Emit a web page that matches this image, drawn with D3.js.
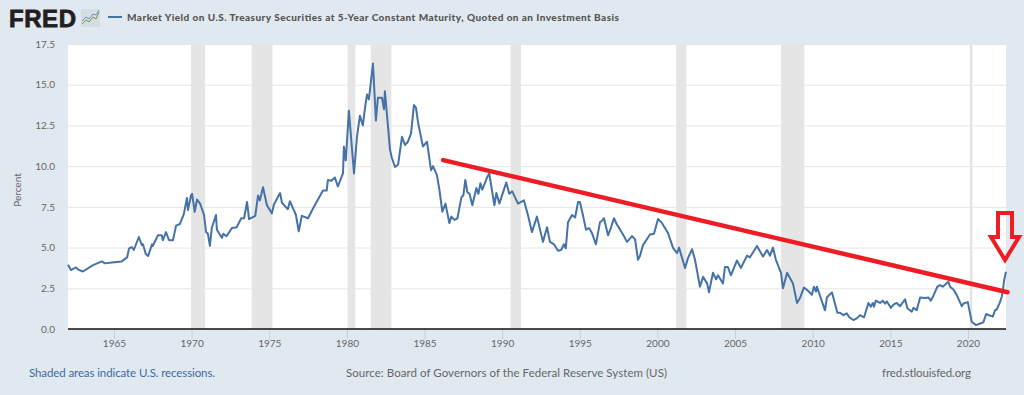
<!DOCTYPE html>
<html>
<head>
<meta charset="utf-8">
<script src="https://cdn.jsdelivr.net/npm/d3@7"></script>
<style>
  html, body { margin: 0; padding: 0; background: #e1e9f0; }
  svg { display: block; font-family: Lato, sans-serif; }
</style>
</head>
<body>
<svg id="chart" width="1024" height="395"></svg>
<script>
const dates = [
  1962.04,1962.23,1962.55,1962.7,1963.0,1963.65,1964.23,1964.42,1964.87,1965.5,1965.85,1965.97,1966.15,1966.28,1966.6,1966.8,1966.87,1967.05,1967.2,1967.45,1967.5,1967.83,1968.08,1968.15,1968.35,1968.55,1968.8,1969.0,1969.25,1969.5,1969.7,1969.77,1969.96,1970.03,1970.2,1970.35,1970.55,1970.8,1970.93,1971.05,1971.18,1971.3,1971.57,1971.63,1971.95,1972.05,1972.25,1972.6,1972.9,1973.2,1973.38,1973.57,1973.7,1974.1,1974.28,1974.4,1974.6,1974.85,1975.17,1975.3,1975.7,1975.82,1976.2,1976.33,1976.72,1976.9,1977.1,1977.5,1977.82,1978.46,1978.7,1978.78,1979.0,1979.23,1979.42,1979.75,1979.81,1979.93,
  1980.13,1980.46,1980.65,1980.84,1981.03,1981.17,1981.3,1981.42,1981.68,1981.87,1982.0,1982.26,1982.39,1982.45,1982.78,1982.9,1983.1,1983.3,1983.55,1983.74,1983.93,1984.13,1984.32,1984.45,1984.58,1984.9,1985.16,1985.42,1985.55,1985.8,1985.96,1986.15,1986.35,1986.6,1986.73,1986.93,1987.12,1987.38,1987.5,1987.63,1987.76,1987.9,1988.08,1988.34,1988.47,1988.6,1988.72,1989.05,1989.17,1989.5,1989.63,1989.82,1990.27,1990.46,1990.65,1991.02,1991.4,1991.66,1991.92,1992.24,1992.63,1992.89,1993.08,1993.34,1993.6,1993.8,1993.98,1994.1,1994.24,1994.5,1994.7,1994.89,1995.01,1995.2,1995.4,1995.6,1995.78,1996.04,1996.3,1996.43,1996.56,1996.82,1997.0,1997.2,1997.4,1997.6,1997.85,1998.04,1998.37,1998.56,1998.75,1998.88,1999.07,1999.52,1999.78,
  2000.04,2000.3,2000.68,2001.0,2001.26,2001.39,2001.78,2001.97,2002.23,2002.42,2002.74,2002.94,2003.2,2003.32,2003.58,2003.78,2003.9,2004.03,2004.22,2004.35,2004.54,2004.73,2005.12,2005.38,2005.77,2005.96,2006.41,2006.8,2007.06,2007.25,2007.44,2007.63,2007.96,2008.09,2008.35,2008.73,2008.99,2009.18,2009.44,2009.7,2009.95,2010.08,2010.21,2010.27,2010.79,2010.92,2011.24,
  2011.59,2011.76,2011.98,2012.19,2012.36,2012.62,2012.84,2013.05,2013.31,
  2013.59,2013.74,2013.87,2013.95,2014.06,2014.34,2014.51,2014.66,2014.77,2015.03,2015.2,2015.41,2015.63,2015.95,2016.1,2016.38,2016.49,2016.7,2016.92,2017.24,2017.45,2017.6,2017.77,2018.03,2018.2,2018.38,2018.74,2018.85,2019.06,2019.28,2019.6,2019.71,2019.99,
  2020.24,2020.52,2020.78,2020.99,2021.17,2021.32,2021.6,2021.75,2021.85,2022.03,2022.18,2022.28,2022.33,2022.45
];
const yields = [
  3.95,3.62,3.78,3.65,3.53,3.92,4.15,4.03,4.08,4.15,4.4,4.95,5.03,4.85,5.65,5.15,5.2,4.6,4.48,5.2,5.1,5.75,5.75,5.45,5.95,5.45,5.45,6.35,6.45,7.05,8.05,7.3,8.2,8.3,7.2,7.95,7.7,7.0,5.95,5.85,5.1,6.2,7.0,6.1,5.6,5.85,5.7,6.2,6.25,6.8,6.8,7.8,6.75,6.95,8.2,7.9,8.7,7.6,7.1,7.65,8.35,7.75,7.35,7.85,7.0,6.0,6.95,6.8,7.4,8.5,8.5,9.15,9.1,9.3,8.75,9.55,11.2,10.35,
  13.4,9.55,11.8,13.1,12.5,13.6,14.4,14.1,16.3,12.8,14.2,14.2,13.5,14.6,11.0,10.5,9.95,10.1,11.8,11.3,11.5,12.0,13.75,13.6,12.7,11.2,11.5,9.75,10.0,9.45,8.55,7.2,7.7,6.5,6.9,6.7,6.8,8.1,8.2,9.15,8.4,8.3,7.6,8.65,8.3,8.95,8.55,9.35,9.55,7.6,8.35,7.7,9.0,8.3,8.45,7.7,7.9,7.0,5.95,6.9,5.35,6.25,5.35,5.2,4.8,4.85,5.2,4.95,6.55,7.0,6.85,7.8,7.8,7.0,6.1,6.2,5.9,5.2,6.55,6.65,6.8,5.75,6.2,6.8,6.4,6.1,5.7,5.35,5.7,5.5,4.25,4.5,5.15,5.8,5.85,
  6.75,6.5,5.9,5.0,4.65,5.0,3.75,4.35,4.9,4.25,2.6,3.2,2.8,2.25,3.45,3.05,3.3,3.1,2.8,3.8,3.8,3.3,4.2,3.75,4.5,4.4,5.1,4.45,4.85,4.5,5.0,4.25,3.45,2.5,3.45,2.8,1.6,1.9,2.55,2.35,2.1,2.6,2.3,2.6,1.15,1.95,2.25,
  1.0,1.0,0.85,0.96,0.72,0.55,0.65,0.85,0.72,
  1.6,1.37,1.6,1.37,1.74,1.6,1.74,1.55,1.7,1.3,1.5,1.6,1.4,1.82,1.27,1.06,1.3,1.15,1.94,1.9,1.94,1.74,2.03,2.6,2.7,2.6,2.9,2.6,2.43,2.08,1.4,1.57,1.65,
  0.45,0.24,0.34,0.41,0.92,0.86,0.76,1.16,1.2,1.57,1.98,2.6,3.0,3.52
];
const recessionStarts = [1969.96, 1973.87, 1980.04, 1981.54, 1990.54, 2001.21, 2007.96, 2020.12];
const recessionEnds = [1970.87, 1975.21, 1980.54, 1982.87, 1991.21, 2001.87, 2009.46, 2020.29];
const yTicks = [0, 2.5, 5, 7.5, 10, 12.5, 15, 17.5];
const xTicks = [1965, 1970, 1975, 1980, 1985, 1990, 1995, 2000, 2005, 2010, 2015, 2020];
const trendYears = [1986.2, 2022.55];
const trendValues = [10.37, 2.26];
const titleText = "Market Yield on U.S. Treasury Securities at 5-Year Constant Maturity, Quoted on an Investment Basis";

const plotLeft = 68, plotRight = 1006, plotTop = 44, plotBottom = 329;
const svg = d3.select("#chart");

const x = d3.scaleLinear().domain([1962.04, 2022.45]).range([plotLeft, plotRight]);
const y = d3.scaleLinear().domain([0, 17.5]).range([plotBottom, plotTop]);

svg.append("rect").attr("width", 1024).attr("height", 395).attr("fill", "#e1e9f0");
svg.append("rect").attr("x", plotLeft).attr("y", plotTop).attr("width", plotRight - plotLeft).attr("height", plotBottom - plotTop).attr("fill", "#fff");

// recessions
svg.selectAll(".rec")
  .data(recessionStarts)
  .enter()
  .append("rect")
  .attr("class", "rec")
  .attr("x", d => x(d))
  .attr("y", plotTop)
  .attr("width", (d, i) => x(recessionEnds[i]) - x(d))
  .attr("height", plotBottom - plotTop)
  .attr("fill", "#e5e5e5");

// grid + y labels
const yAxis = svg.append("g")
  .attr("transform", `translate(${plotLeft},0)`)
  .call(d3.axisLeft(y).tickValues(yTicks).tickFormat(d3.format(".1f")).tickSize(-(plotRight - plotLeft)).tickPadding(13));
yAxis.select(".domain").remove();
yAxis.selectAll("line").attr("stroke", "#e6e6e6").attr("stroke-width", 1);
yAxis.selectAll("text").attr("fill", "#666").attr("font-size", 10).attr("font-family", "Lato, sans-serif");

// x axis
const xAxis = svg.append("g")
  .attr("transform", `translate(0,${plotBottom})`)
  .call(d3.axisBottom(x).tickValues(xTicks).tickFormat(d3.format("d")).tickSize(10).tickPadding(1));
xAxis.select(".domain").remove();
xAxis.selectAll("line").attr("stroke", "#c0d0e0");
xAxis.selectAll("text").attr("fill", "#666").attr("font-size", 10).attr("font-family", "Lato, sans-serif");

svg.append("line").attr("x1", plotLeft).attr("x2", plotRight).attr("y1", plotBottom).attr("y2", plotBottom)
  .attr("stroke", "#111").attr("stroke-width", 1.5);

// series
const line = d3.line().x(d => x(d)).y((d, i) => y(yields[i]));
svg.append("path")
  .attr("d", line(dates))
  .attr("fill", "none")
  .attr("stroke", "#4572a7")
  .attr("stroke-width", 2)
  .attr("stroke-linejoin", "round");

// hand drawn annotation
const trend = d3.line().x(d => x(d)).y((d, i) => y(trendValues[i]));
svg.append("path")
  .attr("d", trend(trendYears))
  .attr("fill", "none")
  .attr("stroke", "#ee1c25")
  .attr("stroke-width", 4.5)
  .attr("stroke-linecap", "round");

svg.append("path")
  .attr("d", "M998,213H1012V237H1019L1005,260L991,237H998Z")
  .attr("fill", "none")
  .attr("stroke", "#ee1c25")
  .attr("stroke-width", 4);

// header
svg.append("text").attr("x", 9).attr("y", 27)
  .attr("font-family", "Liberation Sans, sans-serif").attr("font-weight", 700).attr("font-size", 24)
  .attr("fill", "#231f20").attr("stroke", "#231f20").attr("stroke-width", 0.8)
  .attr("textLength", 67).text("FRED");

svg.append("rect").attr("x", 81).attr("y", 9).attr("width", 19).attr("height", 18).attr("fill", "#d5dde3");
svg.append("path").attr("d", "M82,24L86,20L89,22L93,17L96,19L99,12").attr("fill", "none").attr("stroke", "#6f9a4a").attr("stroke-width", 1);
svg.append("path").attr("d", "M82,21L86,17L89,19L93,14L96,15L99,10").attr("fill", "none").attr("stroke", "#6f93b8").attr("stroke-width", 1);

svg.append("line").attr("x1", 108).attr("x2", 122).attr("y1", 17).attr("y2", 17)
  .attr("stroke", "#4572a7").attr("stroke-width", 2);
svg.append("text").attr("x", 127).attr("y", 21)
  .attr("font-weight", 900).attr("font-size", 10).attr("fill", "#555")
  .attr("textLength", 492).attr("lengthAdjust", "spacing")
  .text(titleText);

svg.append("text").attr("transform", "translate(21,190) rotate(-90)")
  .attr("text-anchor", "middle").attr("font-size", 10).attr("fill", "#666").text("Percent");

// footer
svg.append("text").attr("x", 29).attr("y", 377)
  .attr("font-size", 11.5).attr("fill", "#3e6aa0").attr("textLength", 186).text("Shaded areas indicate U.S. recessions.");
svg.append("text").attr("x", 346).attr("y", 377)
  .attr("font-size", 11.5).attr("fill", "#666").attr("textLength", 321).text("Source: Board of Governors of the Federal Reserve System (US)");
svg.append("text").attr("x", 882).attr("y", 377)
  .attr("font-size", 11.5).attr("fill", "#666").attr("textLength", 89).text("fred.stlouisfed.org");
</script>
</body>
</html>
